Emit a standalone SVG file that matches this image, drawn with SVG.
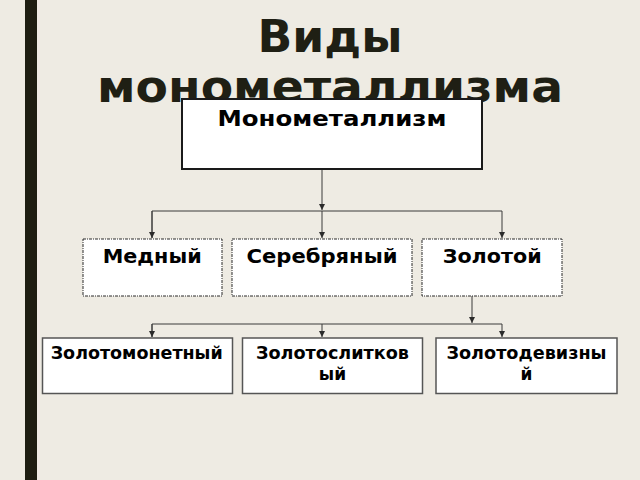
<svg xmlns="http://www.w3.org/2000/svg" width="640" height="480" viewBox="0 0 640 480">
<defs>
<style>
text{font-family:"DejaVu Sans","Liberation Sans",sans-serif;font-weight:bold;fill:#000;text-anchor:middle}
.title{font-size:45px;fill:#1f1f14}
.lbl{font-size:21px}
.lbl1{font-size:20px}
.lbl2{font-size:17px}
.c{fill:none;stroke:#3a3a3a;stroke-width:1}
.top{fill:#fff;stroke:#1a1a1a;stroke-width:2}
.mid{fill:#fff;stroke:#2a2a2a;stroke-width:1;stroke-dasharray:3 1 1 1}
.bot{fill:#fff;stroke:#555;stroke-width:1.5}
</style>
<marker id="a" viewBox="0 0 8 8" refX="8" refY="4" markerWidth="6" markerHeight="6" markerUnits="userSpaceOnUse" orient="auto">
<path d="M0,0 L8,4 L0,8 z" fill="#2a2a2a"/>
</marker>
</defs>
<rect width="640" height="480" fill="#eeebe3"/>
<rect x="25" y="0" width="12" height="480" fill="#1e1e12"/>
<g id="title">
<text class="title" x="330" y="52" textLength="145" lengthAdjust="spacingAndGlyphs">Виды</text>
<text class="title" x="330" y="102" textLength="466" lengthAdjust="spacingAndGlyphs">монометаллизма</text>
</g>
<g id="connectors">
<path class="c" d="M322,170 V210" marker-end="url(#a)"/>
<path class="c" d="M152,238 V211 H502 V238" marker-end="url(#a)"/>
<path class="c" d="M152,211 V238" marker-end="url(#a)"/>
<path class="c" d="M322,211 V238" marker-end="url(#a)"/>
<path class="c" d="M472,296 V323" marker-end="url(#a)"/>
<path class="c" d="M152,337 V324 H502 V337" marker-end="url(#a)"/>
<path class="c" d="M152,324 V337" marker-end="url(#a)"/>
<path class="c" d="M322,324 V337" marker-end="url(#a)"/>
</g>
<g id="n-mono">
<rect class="top" x="182" y="99" width="300" height="70"/>
<text class="lbl" x="332" y="126" textLength="229" lengthAdjust="spacingAndGlyphs">Монометаллизм</text>
</g>
<g id="n-medny">
<rect class="mid" x="83" y="239" width="139" height="57"/>
<text class="lbl1" x="152.2" y="263" textLength="99" lengthAdjust="spacingAndGlyphs">Медный</text>
</g>
<g id="n-serebr">
<rect class="mid" x="232" y="239" width="180" height="57"/>
<text class="lbl1" x="322" y="263" textLength="151" lengthAdjust="spacingAndGlyphs">Серебряный</text>
</g>
<g id="n-zoloto">
<rect class="mid" x="422" y="239" width="140" height="57"/>
<text class="lbl1" x="492.2" y="263" textLength="99" lengthAdjust="spacingAndGlyphs">Золотой</text>
</g>
<g id="n-zmonet">
<rect class="bot" x="42.5" y="338" width="190" height="55.5"/>
<text class="lbl2" x="136.7" y="359" textLength="172" lengthAdjust="spacingAndGlyphs">Золотомонетный</text>
</g>
<g id="n-zslit">
<rect class="bot" x="242.5" y="338" width="180" height="55.5"/>
<text class="lbl2" x="332.5" y="359" textLength="153" lengthAdjust="spacingAndGlyphs">Золотослитков</text>
<text class="lbl2" x="332.5" y="380">ый</text>
</g>
<g id="n-zdeviz">
<rect class="bot" x="436" y="338" width="181" height="55.5"/>
<text class="lbl2" x="526.5" y="359" textLength="160" lengthAdjust="spacingAndGlyphs">Золотодевизны</text>
<text class="lbl2" x="526.5" y="380">й</text>
</g>
</svg>
